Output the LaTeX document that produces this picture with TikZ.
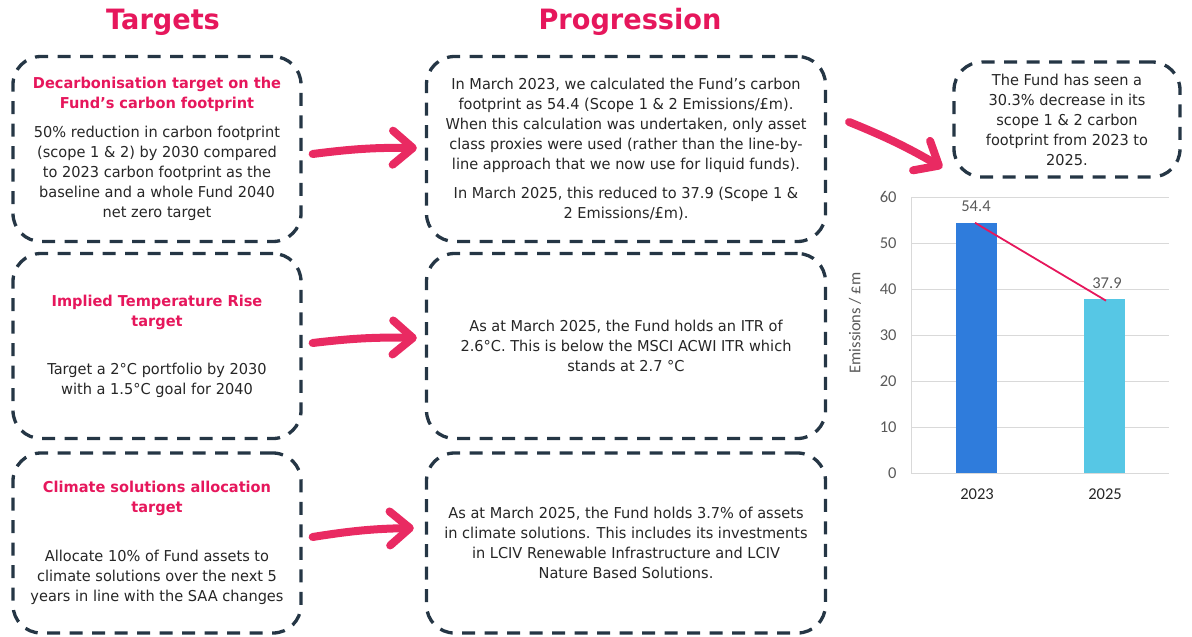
\documentclass[tikz,border=0pt]{standalone}
\usepackage{fontspec}
\setmainfont{DejaVu Sans}[FakeStretch=0.97]
\newfontfamily\chartfont{Carlito}
\usepackage{xcolor}
\usetikzlibrary{positioning,arrows.meta}
\definecolor{hot}{HTML}{E6175C}
\definecolor{brush}{HTML}{E92A62}
\definecolor{slate}{HTML}{253645}
\definecolor{ink}{HTML}{262626}
\definecolor{bar23}{HTML}{2F7CDC}
\definecolor{bar25}{HTML}{56C7E5}
\definecolor{rule}{HTML}{D9D9D9}
\definecolor{tickgray}{HTML}{595959}
\newcommand\hl[1]{{\color{hot}\bfseries #1}}

\begin{document}
\begin{tikzpicture}[x=1pt, y=-1pt,
  card/.style={draw=slate, line width=3.3pt, dash pattern=on 13pt off 9.5pt, rounded corners=28pt, align=center, text=ink, font=\fontsize{15}{20}\selectfont, inner sep=0pt},
  heading/.style={text=hot, font=\fontsize{28}{33}\selectfont\bfseries},
  push/.style={draw=brush, line width=8pt, line cap=round, -{Straight Barb[length=20pt, width=34pt, round]}},
  tick/.style={text=tickgray, font=\chartfont\fontsize{16.5}{19}\selectfont, anchor=east},
  grid/.style={draw=rule, line width=1pt}]
\useasboundingbox (0,0) rectangle (1192,637);

% column headings
\node[heading] (thead) at (163,22) {Targets};
\node[heading] (phead) at (630,22) {Progression};

% targets
\node[card, minimum width=288pt, minimum height=185pt] (t1) at (157,149) {\hl{Decarbonisation target on the}\\\hl{Fund’s carbon footprint}\\[9pt]50\% reduction in carbon footprint\\(scope 1 \& 2) by 2030 compared\\to 2023 carbon footprint as the\\baseline and a whole Fund 2040\\net zero target};
\node[card, minimum width=288pt, minimum height=185pt] (t2) at (157,346) {\hl{Implied Temperature Rise}\\\hl{target}\\[28pt]Target a 2°C portfolio by 2030\\with a 1.5°C goal for 2040};
\node[card, minimum width=288pt, minimum height=180pt] (t3) at (157,543) {\hl{Climate solutions allocation}\\\hl{target}\\[29pt]Allocate 10\% of Fund assets to\\climate solutions over the next 5\\years in line with the SAA changes};

% progression
\node[card, minimum width=399pt, minimum height=185pt] (p1) at (626,149) {In March 2023, we calculated the Fund’s carbon\\footprint as 54.4 (Scope 1 \& 2 Emissions/£m).\\When this calculation was undertaken, only asset\\class proxies were used (rather than the line-by-\\line approach that we now use for liquid funds).\\[9pt]In March 2025, this reduced to 37.9 (Scope 1 \&\\2 Emissions/£m).};
\node[card, minimum width=399pt, minimum height=185pt] (p2) at (626,346) {As at March 2025, the Fund holds an ITR of\\2.6°C. This is below the MSCI ACWI ITR which\\stands at 2.7 °C};
\node[card, minimum width=399pt, minimum height=180pt] (p3) at (626,543) {As at March 2025, the Fund holds 3.7\% of assets\\in climate solutions. This includes its investments\\in LCIV Renewable Infrastructure and LCIV\\Nature Based Solutions.};

% summary
\node[card, minimum width=226pt, minimum height=115pt] (fact) at (1067,119.5) {The Fund has seen a\\30.3\% decrease in its\\scope 1 \& 2 carbon\\footprint from 2023 to\\2025.};

% arrows
\draw[push] ([xshift=10pt, yshift=-5pt]t1.east) to[bend left=4] ([xshift=-8pt, yshift=1pt]p1.west);
\draw[push] ([xshift=10pt, yshift=3pt]t2.east) to[bend left=4] ([xshift=-8pt, yshift=8pt]p2.west);
\draw[push] ([xshift=10pt, yshift=6pt]t3.east) to[bend left=4] ([xshift=-11pt, yshift=15pt]p3.west);
\draw[push] ([xshift=22pt, yshift=27pt]p1.east) to[bend left=4] ([xshift=-10pt, yshift=11pt]fact.south west);

% chart
\foreach \v in {0,10,...,60} {
  \draw[grid] (911,{473-4.6*\v}) -- (1169,{473-4.6*\v});
  \node[tick] (y\v) at (900,{473-4.6*\v}) {\v};
}
\draw[grid] (911,197) -- (911,473);
\fill[bar23] (956,473) rectangle (997,{473-4.6*54.4});
\fill[bar25] (1084,473) rectangle (1125,{473-4.6*37.9});
\coordinate (top23) at (975,{473-4.6*54.4});
\coordinate (top25) at (1106,{473-4.6*37.9+2});
\draw[hot, line width=1.8pt] (top23) -- (top25);
\node[text=tickgray, font=\chartfont\fontsize{16.5}{19}\selectfont] (v23) at (976,206) {54.4};
\node[text=tickgray, font=\chartfont\fontsize{16.5}{19}\selectfont] (v25) at (1107,283) {37.9};
\node[text=ink, font=\chartfont\fontsize{16.5}{19}\selectfont] (x23) at (977,494) {2023};
\node[text=ink, font=\chartfont\fontsize{16.5}{19}\selectfont] (x25) at (1105,494) {2025};
\node[text=tickgray, font=\chartfont\fontsize{16.5}{19}\selectfont, rotate=90] (ylab) at (855,323) {Emissions / £m};
\end{tikzpicture}
\end{document}
